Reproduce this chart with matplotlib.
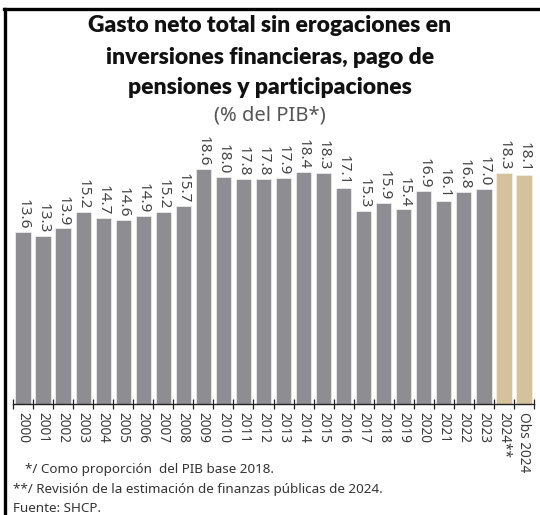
import numpy as np
import matplotlib
matplotlib.use("Agg")
import matplotlib.pyplot as plt
from matplotlib.lines import Line2D

plt.rcParams['font.family'] = ['Noto Sans', 'DejaVu Sans']

years = ['2000', '2001', '2002', '2003', '2004', '2005', '2006', '2007', '2008',
         '2009', '2010', '2011', '2012', '2013', '2014', '2015', '2016', '2017',
         '2018', '2019', '2020', '2021', '2022', '2023', '2024**', 'Obs 2024']
values = [13.6, 13.3, 13.9, 15.2, 14.7, 14.6, 14.9, 15.2, 15.7,
          18.6, 18.0, 17.8, 17.8, 17.9, 18.4, 18.3, 17.1, 15.3,
          15.9, 15.4, 16.9, 16.1, 16.8, 17.0, 18.3, 18.1]

gray = '#8e8d92'
tan = '#d5c19c'
colors = [gray] * 24 + [tan] * 2

fig = plt.figure(figsize=(5.4, 5.15), dpi=100)
ax = fig.add_axes([13 / 540, 1 - 404 / 515, 521 / 540, 252.6 / 515])

x = np.arange(len(values))
bars = ax.bar(x, values, width=0.76, color=colors, edgecolor='#f2f2f2', linewidth=0.5)
for xi, v in zip(x, values):
    ax.text(xi, v + 0.2, f'{v:.1f}', rotation=270, ha='center', va='bottom',
            fontsize=11, color='#444444')

ax.set_xlim(-0.5, len(values) - 0.5)
ax.set_ylim(0, 20)
ax.set_xticks(x)
ax.set_xticklabels(years, rotation=270, fontsize=9.8, color='#3a3a3a')
ax.tick_params(axis='x', which='major', length=0, pad=6)
ax.set_xticks(np.arange(-0.5, len(values)), minor=True)
ax.tick_params(axis='x', which='minor', direction='inout', length=7, width=0.9, color='#222222')
ax.set_yticks([])
for side in ['top', 'right', 'left']:
    ax.spines[side].set_visible(False)
ax.spines['bottom'].set_color('#222222')
ax.spines['bottom'].set_linewidth(1.0)

# titles
title_lines = ['Gasto neto total sin erogaciones en',
               'inversiones financieras, pago de',
               'pensiones y participaciones']
for line, ypix in zip(title_lines, [25, 57, 88]):
    fig.text(0.5, 1 - ypix / 515, line, ha='center', va='center', family='Lato',
             fontsize=16.5, fontweight=800, color='#111111')
fig.text(0.5, 1 - 115 / 515, '(% del PIB*)', ha='center', va='center',
         fontsize=14.5, color='#555555')

# notes
fig.text(25 / 540, 1 - 470 / 515, '*/ Como proporción  del PIB base 2018.', ha='left', va='center',
         fontsize=9.7, color='#333333')
fig.text(13 / 540, 1 - 490 / 515, '**/ Revisión de la estimación de finanzas públicas de 2024.',
         ha='left', va='center', fontsize=9.7, color='#333333')
fig.text(13 / 540, 1 - 508 / 515, 'Fuente: SHCP.', ha='left', va='center',
         fontsize=9.7, color='#333333')

# frame lines (top and left)
fig.add_artist(Line2D([4 / 540, 1], [1 - 8.5 / 515, 1 - 8.5 / 515], color='black', linewidth=2.4,
                      transform=fig.transFigure))
fig.add_artist(Line2D([4.5 / 540, 4.5 / 540], [0, 1 - 8.5 / 515], color='black', linewidth=2.4,
                      transform=fig.transFigure))

fig.savefig('out.png', dpi=100)
